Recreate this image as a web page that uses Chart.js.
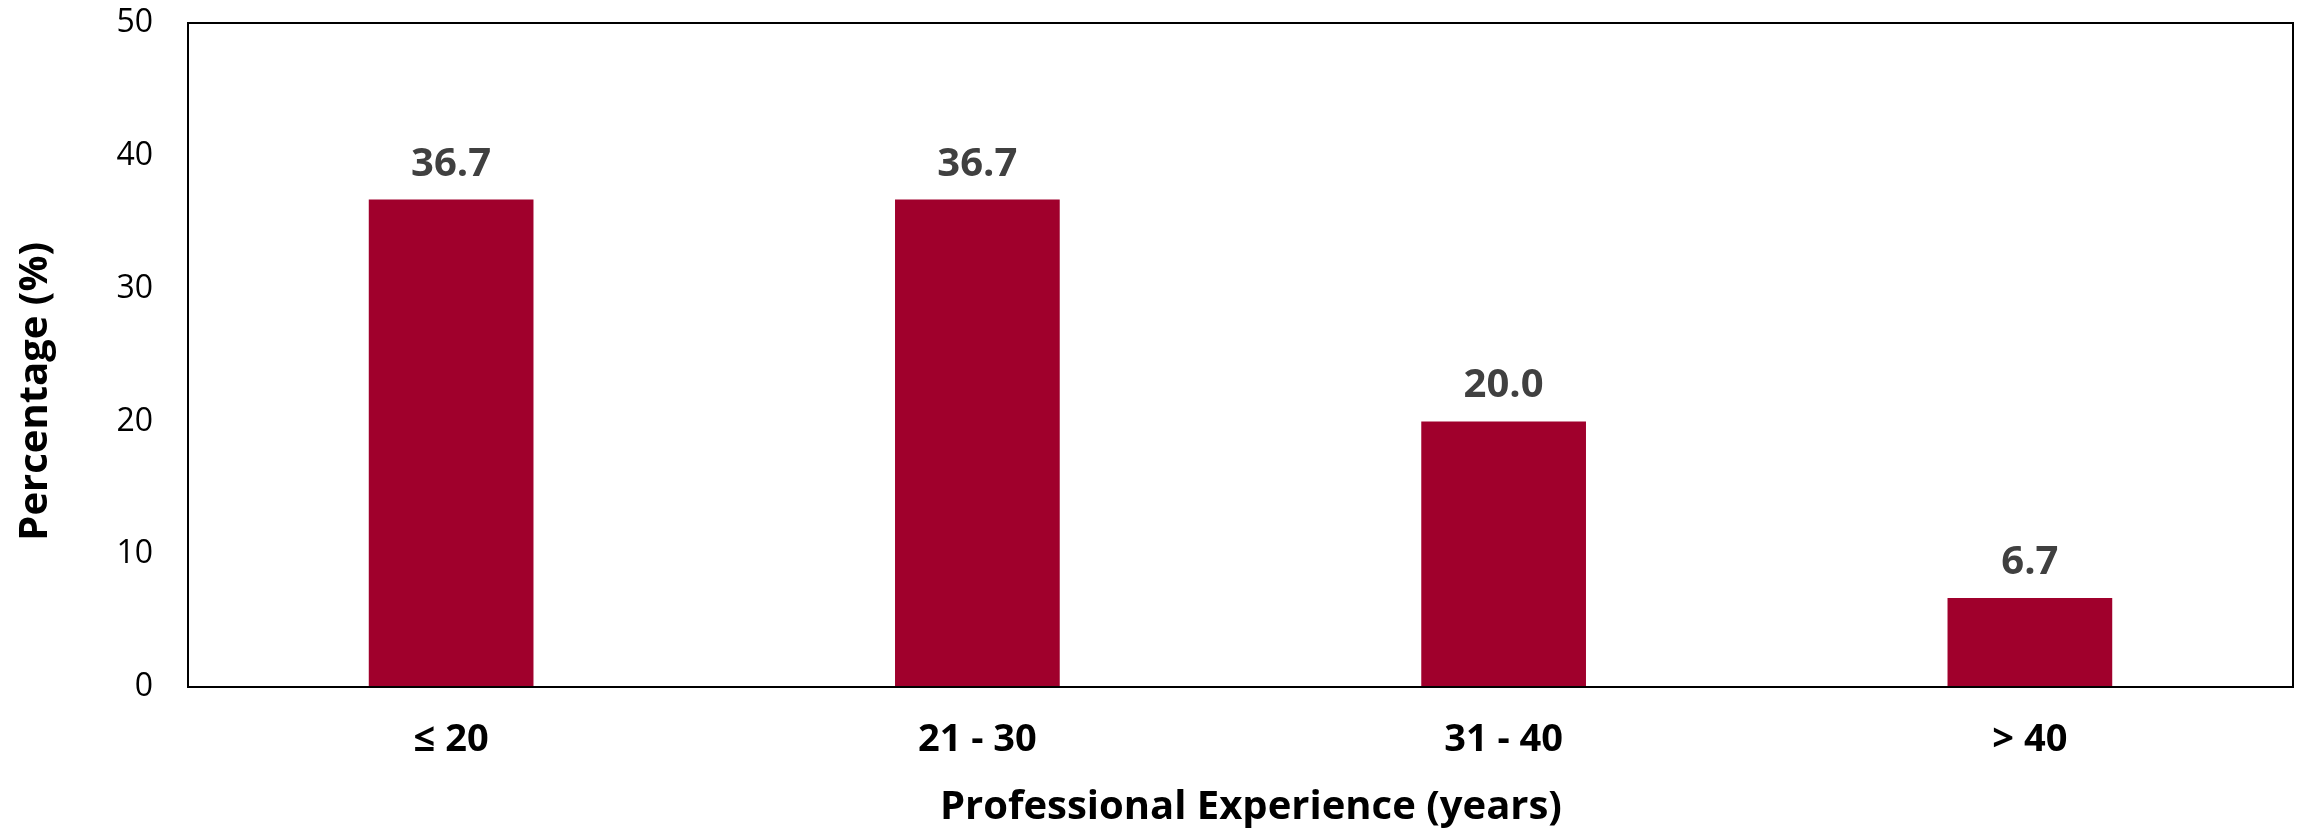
<!DOCTYPE html>
<html>
<head>
<meta charset="utf-8">
<script src="https://cdn.jsdelivr.net/npm/chart.js@4/dist/chart.umd.min.js"></script>
<style>
  html, body { margin: 0; padding: 0; background: #fff; }
  #wrap { width: 2300px; height: 832px; }
</style>
</head>
<body>
<div id="wrap"><canvas id="bar-chart" width="2300" height="832"></canvas></div>
<script>
// data
const categories = ['≤ 20', '21 - 30', '31 - 40', '> 40']
const percentages = [36.7, 36.7, 20.0, 6.7]
const yTicks = [0, 10, 20, 30, 40, 50]

const barColor = '#A0002C'
const fontFace = '"Open Sans", "Noto Sans", sans-serif'

// box round the plot area
const frame = {
	id: 'frame',
	afterDraw(chart) {
		const { ctx, chartArea: a } = chart
		ctx.save()
		ctx.strokeStyle = '#000'
		ctx.lineWidth = 2
		ctx.strokeRect(a.left, a.top, a.right - a.left, a.bottom - a.top)
		ctx.restore()
	}
}

// value over each bar
const valueLabels = {
	id: 'valueLabels',
	afterDatasetsDraw(chart) {
		const { ctx } = chart
		const meta = chart.getDatasetMeta(0)
		ctx.save()
		ctx.font = 'bold 40px ' + fontFace
		ctx.fillStyle = '#404040'
		ctx.textAlign = 'center'
		ctx.textBaseline = 'alphabetic'
		meta.data.forEach((bar, i) => {
			ctx.fillText(percentages[i].toFixed(1), bar.x, bar.y - 24)
		})
		ctx.restore()
	}
}

new Chart(document.getElementById('bar-chart'), {
	type: 'bar',
	data: {
		labels: categories,
		datasets: [{
			data: percentages,
			backgroundColor: barColor,
			borderWidth: 0,
			categoryPercentage: 1,
			barPercentage: 0.313
		}]
	},
	options: {
		responsive: false,
		animation: false,
		devicePixelRatio: 1,
		layout: { padding: { top: 23, right: 7, left: 0, bottom: 0 } },
		plugins: {
			legend: { display: false },
			tooltip: { enabled: false }
		},
		scales: {
			x: {
				grid: { display: false, drawTicks: false },
				border: { display: false },
				ticks: {
					color: '#000',
					padding: 30,
					font: { family: fontFace, size: 38, weight: 'bold' }
				},
				title: {
					display: true,
					text: '  Professional Experience (years)',
					color: '#000',
					font: { family: fontFace, size: 40, weight: 'bold' },
					padding: { top: 0, bottom: 0 }
				},
				afterFit(scale) { scale.height = 145 }
			},
			y: {
				min: 0,
				max: 50,
				afterBuildTicks(scale) { scale.ticks = yTicks.map(v => ({ value: v })) },
				// hidden tick marks keep the labels off the frame without adding top padding
				grid: { display: false, drawTicks: true, tickLength: 35 },
				border: { display: false },
				ticks: {
					color: '#000',
					padding: 0,
					font: { family: fontFace, size: 32 }
				},
				title: {
					display: true,
					text: 'Percentage (%)       ',
					color: '#000',
					font: { family: fontFace, size: 40, weight: 'bold' },
					padding: { top: 12, bottom: 0 }
				},
				afterFit(scale) { scale.width = 188 }
			}
		}
	},
	plugins: [frame, valueLabels]
})
</script>
</body>
</html>
